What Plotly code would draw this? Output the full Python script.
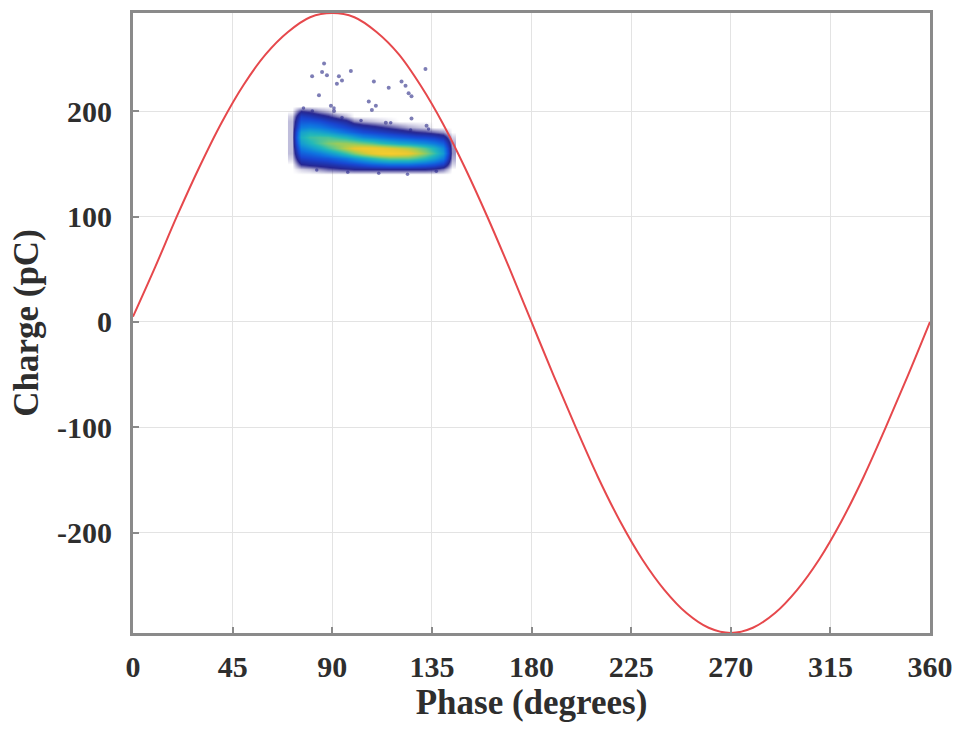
import plotly.graph_objects as go

# Applied voltage reference (scaled to charge units), sampled every 10 degrees
ref_phase = [0, 10, 20, 30, 40, 50, 60, 70, 80, 90, 100, 110, 120, 130, 140, 150, 160, 170, 180,
             190, 200, 210, 220, 230, 240, 250, 260, 270, 280, 290, 300, 310, 320, 330, 340, 350, 360]
ref_charge = [5, 52, 101, 147, 189, 225, 254, 275, 289, 293, 289, 275, 254, 224, 188, 146, 100, 51, 0,
              -51, -100, -147, -189, -225, -254, -276, -290, -295, -290, -276, -254, -225, -189, -147, -100, -51, 0]

# Discharge density map: phase bins (columns) x charge bins (rows), relative counts
dens_phase = [72, 76, 80, 84, 88, 92, 96, 100, 104, 108, 112, 116, 120, 124, 128, 132, 136, 140, 144]
dens_charge = [140, 145, 150, 155, 160, 165, 170, 175, 180, 185, 190, 195, 200, 205]
dens_counts = [
    # 72   76   80   84   88   92   96   100  104  108  112  116  120  124  128  132  136  140  144
    [0.0, 0.0, 0.0, 0.0, 0.0, 0.0, 0.0, 0.0, 0.0, 0.0, 0.0, 0.0, 0.0, 0.0, 0.0, 0.0, 0.0, 0.0, 0.0],  # 140
    [0.0, 0.2, 0.3, 0.5, 0.7, 0.8, 0.9, 1.0, 1.0, 1.0, 1.0, 1.0, 1.0, 1.0, 1.0, 1.0, 0.9, 0.6, 0.0],  # 145
    [0.0, 1.0, 1.2, 1.3, 1.4, 1.6, 1.8, 2.0, 2.3, 2.6, 2.8, 3.0, 3.0, 3.0, 2.8, 2.6, 2.3, 1.8, 0.2],  # 150
    [0.2, 1.8, 2.0, 2.2, 2.4, 2.8, 3.2, 3.8, 4.4, 5.0, 5.6, 6.0, 6.0, 6.0, 5.6, 5.0, 4.2, 3.2, 0.4],  # 155
    [0.3, 2.5, 2.8, 3.2, 3.8, 4.5, 5.4, 6.4, 7.4, 8.2, 8.8, 9.0, 8.8, 8.4, 7.6, 6.6, 5.4, 4.0, 0.5],  # 160
    [0.3, 3.2, 3.8, 4.5, 5.4, 6.3, 7.3, 8.2, 8.6, 8.6, 8.4, 8.0, 7.6, 7.2, 6.6, 5.8, 4.8, 3.6, 0.5],  # 165
    [0.3, 4.0, 4.8, 5.6, 6.4, 6.8, 6.8, 6.6, 6.2, 5.8, 5.2, 4.8, 4.4, 4.2, 3.9, 3.6, 3.2, 2.6, 0.4],  # 170
    [0.3, 4.6, 5.4, 5.6, 5.6, 5.2, 4.8, 4.2, 3.6, 3.3, 3.0, 2.7, 2.5, 2.3, 2.1, 2.0, 1.8, 1.4, 0.2],  # 175
    [0.3, 4.2, 4.6, 4.4, 4.0, 3.5, 3.0, 2.6, 2.2, 2.0, 1.8, 1.6, 1.4, 1.2, 1.0, 0.9, 0.7, 0.5, 0.0],  # 180
    [0.3, 3.2, 3.4, 3.2, 2.8, 2.4, 2.0, 1.7, 1.4, 1.2, 1.0, 0.8, 0.6, 0.4, 0.3, 0.2, 0.0, 0.0, 0.0],  # 185
    [0.3, 2.4, 2.4, 2.2, 1.8, 1.5, 1.2, 0.6, 0.4, 0.3, 0.2, 0.1, 0.0, 0.0, 0.0, 0.0, 0.0, 0.0, 0.0],  # 190
    [0.2, 1.8, 1.6, 1.3, 1.0, 0.6, 0.3, 0.0, 0.0, 0.0, 0.0, 0.0, 0.0, 0.0, 0.0, 0.0, 0.0, 0.0, 0.0],  # 195
    [0.0, 1.0, 0.8, 0.5, 0.3, 0.0, 0.0, 0.0, 0.0, 0.0, 0.0, 0.0, 0.0, 0.0, 0.0, 0.0, 0.0, 0.0, 0.0],  # 200
    [0.0, 0.0, 0.0, 0.0, 0.0, 0.0, 0.0, 0.0, 0.0, 0.0, 0.0, 0.0, 0.0, 0.0, 0.0, 0.0, 0.0, 0.0, 0.0],  # 205
]

# Sparse events along the rim of the cluster
rim_phase = [77, 81, 90.8, 94.4, 103, 116.4, 125.4, 133.5,
             83, 97, 111, 124, 137]
rim_charge = [203, 200, 203, 194, 191, 189, 182, 183,
              144, 142, 141, 140, 143]

# Isolated discharge events outside the main cluster
out_phase = [86.3, 80.9, 85.4, 87.6, 93.0, 94.4, 92.1, 98.4, 84.0, 108.8, 115.5, 121.3, 123.1,
             124.5, 125.8, 132.1, 106.5, 109.7, 107.9, 89.4, 90.8, 125.8, 114.2, 132.6]
out_charge = [245, 233, 237, 234, 233, 229, 226, 238, 215, 228, 222, 228, 224,
              217, 214, 240, 209, 205, 201, 205, 200, 193, 189, 186]

x_ticks = [0, 45, 90, 135, 180, 225, 270, 315, 360]
y_ticks = [-200, -100, 0, 100, 200]

density_scale = [
    [0.0, "rgba(45,35,130,0)"],
    [0.111, "rgba(38,38,145,1)"],
    [0.222, "rgb(25,70,210)"],
    [0.333, "rgb(15,115,225)"],
    [0.444, "rgb(20,155,210)"],
    [0.556, "rgb(35,185,185)"],
    [0.667, "rgb(100,200,135)"],
    [0.778, "rgb(170,205,80)"],
    [0.889, "rgb(228,200,50)"],
    [1.0, "rgb(248,205,45)"],
]

fig = go.Figure()

fig.add_trace(go.Heatmap(
    x=dens_phase, y=dens_charge, z=dens_counts,
    zmin=0, zmax=9, zsmooth="best",
    colorscale=density_scale, showscale=False, hoverinfo="skip",
))

fig.add_trace(go.Scatter(
    x=rim_phase, y=rim_charge, mode="markers",
    marker=dict(size=3.5, color="rgba(40,40,140,0.6)"),
    showlegend=False,
))

fig.add_trace(go.Scatter(
    x=out_phase, y=out_charge, mode="markers",
    marker=dict(size=4, color="rgba(70,70,150,0.7)"),
    showlegend=False,
))

fig.add_trace(go.Scatter(
    x=ref_phase, y=ref_charge, mode="lines",
    line=dict(color="rgb(230,72,76)", width=2, shape="spline"),
    showlegend=False,
))

axis_font = dict(family="Liberation Serif", size=30, color="#2e2e2e", weight="bold")
title_font = dict(family="Liberation Serif", size=35, color="#2e2e2e", weight="bold")

fig.update_xaxes(
    range=[0, 360], tickvals=x_ticks, ticktext=[str(v) for v in x_ticks],
    showgrid=True, gridcolor="#e3e3e3", gridwidth=1, zeroline=False,
    showline=True, linecolor="#8a8a8a", linewidth=3, mirror=True,
    ticks="inside", ticklen=6, tickcolor="#8a8a8a", tickwidth=2,
    tickfont=axis_font, ticklabelstandoff=5,
    title=dict(text="Phase (degrees)", font=title_font, standoff=2),
)
fig.update_yaxes(
    range=[-295, 293], tickvals=y_ticks, ticktext=[str(v) for v in y_ticks],
    showgrid=True, gridcolor="#e3e3e3", gridwidth=1, zeroline=False,
    showline=True, linecolor="#8a8a8a", linewidth=3, mirror=True,
    ticks="inside", ticklen=6, tickcolor="#8a8a8a", tickwidth=2,
    tickfont=axis_font, ticklabelstandoff=12,
    title=dict(text="Charge (pC)", font=title_font, standoff=8),
)

fig.update_layout(
    width=963, height=731,
    margin=dict(l=133, r=28, t=10, b=98),
    paper_bgcolor="white", plot_bgcolor="white",
    showlegend=False,
)

fig.write_html("out.html")
